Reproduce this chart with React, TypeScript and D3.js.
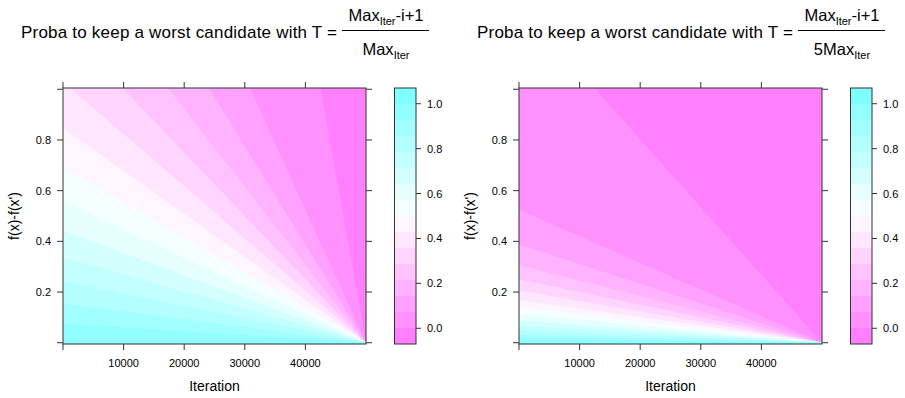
import React from "react";
import * as d3 from "d3";

// ---------- data ----------
const maxIter = 50000;
const deltaDomain = [-0.005, 1.005];
const xTickValues = [0, 10000, 20000, 30000, 40000];
const xTickLabels = ["", "10000", "20000", "30000", "40000"];
const yTickValues = [0, 0.2, 0.4, 0.6, 0.8, 1];
const yTickLabels = ["", "0.2", "0.4", "0.6", "0.8", ""];
const keyTickValues = [0, 0.2, 0.4, 0.6, 0.8, 1];
const keyTickLabels = ["0.0", "0.2", "0.4", "0.6", "0.8", "1.0"];
// colour-key cut points (16 levels)
const levelBreaks = [
  -0.07, 0.00125, 0.0725, 0.14375, 0.215, 0.28625, 0.3575, 0.42875, 0.5,
  0.57125, 0.6425, 0.71375, 0.785, 0.85625, 0.9275, 0.99875, 1.07,
];
const levelColors = [
  "#FF80FF", "#FF91FF", "#FFA1FF", "#FFB3FF", "#FFC2FF", "#FFD4FF", "#FFE6FF", "#FFF5FF",
  "#F5FFFF", "#E6FFFF", "#D4FFFF", "#C2FFFF", "#B3FFFF", "#A1FFFF", "#91FFFF", "#80FFFF",
];
// f(x)-f(x') where each inner cut point (levelBreaks[1..15]) meets iteration 1;
// every boundary converges to the bottom-right corner (last iteration, 0)
const boundaryDeltaLeft = [
  6.685, 2.624, 1.94, 1.537, 1.251, 1.029, 0.847, 0.693, 0.56, 0.442, 0.337, 0.242, 0.155, 0.075, 0.0013,
];
const boundaryDeltaRight = [
  1.337, 0.525, 0.388, 0.307, 0.25, 0.206, 0.169, 0.139, 0.112, 0.088, 0.067, 0.048, 0.031, 0.015, 0.0003,
];
const denominatorPrefix = ["", "5"];
const titleText = "Proba to keep a worst candidate with T =";
const xLabel = "Iteration";
const yLabel = "f(x)-f(x')";

// ---------- layout ----------
const W = 905;
const H = 398;
const FONT = "'Liberation Sans', Arial, Helvetica, sans-serif";
const PANEL_TOP = 88;
const PANEL_BOTTOM = 344;
const PANEL_W = 303;
const OFFSETS = [0, 456];
const AXIS = "#333";

function Plot({ idx }: { idx: number }) {
  const off = OFFSETS[idx];
  const x0 = 63 + off;
  const x1 = x0 + PANEL_W;
  const kx0 = 394.5 + off;
  const kw = 21.5;
  const xS = d3.scaleLinear().domain([0.5, maxIter + 0.5]).range([x0, x1]);
  const yS = d3.scaleLinear().domain(deltaDomain).range([PANEL_BOTTOM, PANEL_TOP]);
  const kS = d3
    .scaleLinear()
    .domain([levelBreaks[0], levelBreaks[levelBreaks.length - 1]])
    .range([PANEL_BOTTOM, PANEL_TOP]);
  const boundaries = idx === 0 ? boundaryDeltaLeft : boundaryDeltaRight;
  const line = d3
    .line<[number, number]>()
    .x((d) => xS(d[0]))
    .y((d) => yS(d[1]));
  const clipId = `panelClip${idx}`;
  const bands = boundaries.map((b, i) => {
    const pts: [number, number][] = [
      [0.5, deltaDomain[0]],
      [0.5, b],
      [maxIter + 1, 0],
      [maxIter + 1, deltaDomain[0]],
    ];
    return { d: line(pts) + "Z", color: levelColors[i + 1] };
  });
  const tl = 6;
  const cx = (x0 + x1) / 2;
  const fracC = 386 + off;
  return (
    <g fontFamily={FONT}>
      {/* title */}
      <text
        x={21 + off}
        y={37.5}
        fontSize={17}
        textLength={316}
        lengthAdjust="spacing"
        fill="#000"
      >
        {titleText}
      </text>
      <line x1={342 + off} x2={429 + off} y1={30.5} y2={30.5} stroke="#000" strokeWidth={1} />
      <text x={fracC} y={21} textAnchor="middle" fontSize={16.5} fill="#000">
        Max
        <tspan fontSize={11} dy={4}>
          Iter
        </tspan>
        <tspan dy={-4}>-i+1</tspan>
      </text>
      <text x={fracC} y={55} textAnchor="middle" fontSize={16.5} fill="#000">
        {denominatorPrefix[idx]}Max
        <tspan fontSize={11} dy={4}>
          Iter
        </tspan>
      </text>

      {/* panel */}
      <defs>
        <clipPath id={clipId}>
          <rect x={x0} y={PANEL_TOP} width={PANEL_W} height={PANEL_BOTTOM - PANEL_TOP} />
        </clipPath>
      </defs>
      <g clipPath={`url(#${clipId})`}>
        <rect x={x0} y={PANEL_TOP} width={PANEL_W} height={PANEL_BOTTOM - PANEL_TOP} fill={levelColors[0]} />
        {bands.map((b, i) => (
          <path key={i} d={b.d} fill={b.color} />
        ))}
      </g>
      <rect
        x={x0}
        y={PANEL_TOP}
        width={PANEL_W}
        height={PANEL_BOTTOM - PANEL_TOP}
        fill="none"
        stroke={AXIS}
        strokeWidth={1}
      />
      {/* y ticks both sides */}
      {yTickValues.map((v, i) => (
        <g key={"y" + i}>
          <line x1={x0 - tl} x2={x0} y1={yS(v)} y2={yS(v)} stroke={AXIS} />
          <line x1={x1} x2={x1 + tl} y1={yS(v)} y2={yS(v)} stroke={AXIS} />
          {yTickLabels[i] && (
            <text x={x0 - 12} y={yS(v)} textAnchor="end" dominantBaseline="central" fontSize={11} fill="#000">
              {yTickLabels[i]}
            </text>
          )}
        </g>
      ))}
      {/* x ticks both sides */}
      {xTickValues.map((v, i) => (
        <g key={"x" + i}>
          <line x1={xS(v)} x2={xS(v)} y1={PANEL_BOTTOM} y2={PANEL_BOTTOM + tl} stroke={AXIS} />
          <line x1={xS(v)} x2={xS(v)} y1={PANEL_TOP - tl} y2={PANEL_TOP} stroke={AXIS} />
          {xTickLabels[i] && (
            <text x={xS(v)} y={366.5} textAnchor="middle" fontSize={11} fill="#000">
              {xTickLabels[i]}
            </text>
          )}
        </g>
      ))}
      <text x={cx} y={390.5} textAnchor="middle" fontSize={14} fill="#000">
        {xLabel}
      </text>
      <text
        transform={`translate(${14 + off},${(PANEL_TOP + PANEL_BOTTOM) / 2}) rotate(-90)`}
        textAnchor="middle"
        dominantBaseline="central"
        fontSize={14}
        fill="#000"
      >
        {yLabel}
      </text>

      {/* colour key */}
      {levelColors.map((c, i) => (
        <rect
          key={"k" + i}
          x={kx0}
          y={kS(levelBreaks[i + 1])}
          width={kw}
          height={kS(levelBreaks[i]) - kS(levelBreaks[i + 1])}
          fill={c}
        />
      ))}
      <rect
        x={kx0}
        y={PANEL_TOP}
        width={kw}
        height={PANEL_BOTTOM - PANEL_TOP}
        fill="none"
        stroke={AXIS}
      />
      {keyTickValues.map((v, i) => (
        <g key={"kt" + i}>
          <line x1={kx0 + kw} x2={kx0 + kw + 5} y1={kS(v)} y2={kS(v)} stroke={AXIS} />
          <text x={kx0 + kw + 11} y={kS(v)} dominantBaseline="central" fontSize={11} fill="#000">
            {keyTickLabels[i]}
          </text>
        </g>
      ))}
    </g>
  );
}

export default function App() {
  return (
    <svg
      width={W}
      height={H}
      viewBox={`0 0 ${W} ${H}`}
      style={{ position: "absolute", left: 0, top: 0, background: "#fff" }}
    >
      <rect width={W} height={H} fill="#fff" />
      <Plot idx={0} />
      <Plot idx={1} />
    </svg>
  );
}
